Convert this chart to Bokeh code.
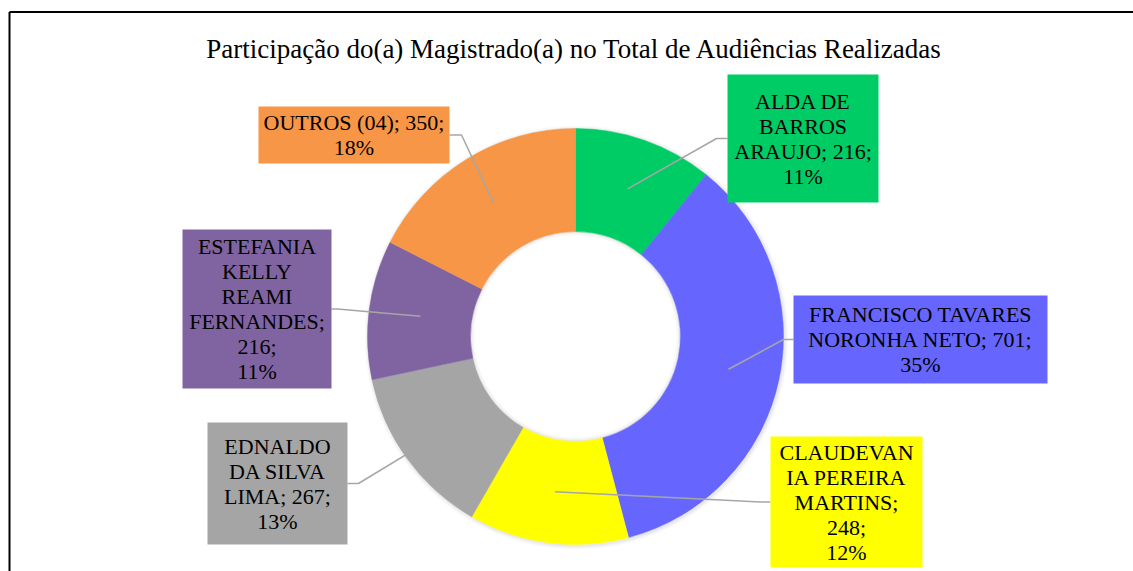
import math
from bokeh.plotting import figure
from bokeh.models import Range1d
from bokeh.embed import file_html
from bokeh.resources import INLINE
from bokeh.core.properties import value

# ---------------- data ----------------
title = "Participação do(a) Magistrado(a) no Total de Audiências Realizadas"
names = ["ALDA DE BARROS ARAUJO", "FRANCISCO TAVARES NORONHA NETO",
         "CLAUDEVANIA PEREIRA MARTINS", "EDNALDO DA SILVA LIMA",
         "ESTEFANIA KELLY REAMI FERNANDES", "OUTROS (04)"]
values = [216, 701, 248, 267, 216, 350]
colors = ["#00CC66", "#6666FF", "#FFFF00", "#A5A5A5", "#8064A2", "#F79646"]

# ---------------- layout (screen pixels) ----------------
wrapped = ["ALDA DE\nBARROS\nARAUJO", "FRANCISCO TAVARES\nNORONHA NETO",
           "CLAUDEVAN\nIA PEREIRA\nMARTINS", "EDNALDO\nDA SILVA\nLIMA",
           "ESTEFANIA\nKELLY\nREAMI\nFERNANDES", "OUTROS (04)"]
value_sep = [" ", " ", "\n", " ", "\n", " "]
# box: center x, center y, width, height, side of leader ('L' or 'R'), elbow length
boxes = [(802.5, 138, 151, 128, "L", 11),
         (920, 339, 254, 88, "L", 10),
         (846, 501.5, 152, 131, "L", 10),
         (277, 483, 140, 122, "R", 11),
         (256.5, 308.5, 149, 159, "R", 6),
         (353.5, 134.5, 191, 57, "R", 12)]
CX, CY = 575, 336
R_OUT, R_IN = 208, 105

W, H = 1133, 571


def Y(sy):
    return H - sy


p = figure(width=W, height=H, output_backend="svg", toolbar_location=None,
           x_range=Range1d(0, W), y_range=Range1d(0, H),
           x_axis_type=None, y_axis_type=None, min_border=0)
p.outline_line_color = None
p.xgrid.visible = False
p.ygrid.visible = False
p.background_fill_color = "white"
p.border_fill_color = "white"

# outer border of chart area
p.line([9, 9], [Y(575), Y(11.5)], line_color="black", line_width=2)
p.line([9, 1140], [Y(11.5), Y(11.5)], line_color="black", line_width=2)

# title
p.text(x=[574], y=[Y(48)], text=[title], text_align="center", text_baseline="middle",
       text_font=value("Liberation Serif"), text_font_size="27px", text_color="black")

# soft shadow rings
for k, a in [(4, 0.025), (2.5, 0.03), (1.2, 0.035)]:
    p.annulus(x=[CX + 1], y=[Y(CY + 1)], inner_radius=R_OUT - 1, outer_radius=R_OUT + k,
              fill_color="#000000", fill_alpha=a, line_color=None)
    p.annulus(x=[CX], y=[Y(CY)], inner_radius=R_IN - k, outer_radius=R_IN + 1,
              fill_color="#000000", fill_alpha=a, line_color=None)

total = sum(values)
cum = 0
for i, v in enumerate(values):
    a0 = math.pi / 2 - 2 * math.pi * cum / total
    a1 = math.pi / 2 - 2 * math.pi * (cum + v) / total
    p.annular_wedge(x=[CX], y=[Y(CY)], inner_radius=R_IN, outer_radius=R_OUT,
                    start_angle=a0, end_angle=a1, direction="clock",
                    fill_color=colors[i], line_color=colors[i], line_width=0.5)
    cum += v

# labels
cum = 0
for i, v in enumerate(values):
    mid = math.pi / 2 - 2 * math.pi * (cum + v / 2) / total
    cum += v
    rm = (R_OUT + R_IN) / 2
    ax = CX + rm * math.cos(mid)
    ay = CY - rm * math.sin(mid)
    bx, by, bw, bh, side, el = boxes[i]
    edge = bx - bw / 2 if side == "L" else bx + bw / 2
    elbow = edge - el if side == "L" else edge + el
    p.line([ax, elbow, edge], [Y(ay), Y(by), Y(by)], line_color="#A6A6A6", line_width=1.5)
    p.rect(x=[bx], y=[Y(by)], width=bw, height=bh, fill_color=colors[i], line_color=None)
    pct = round(v / total * 100)
    txt = f"{wrapped[i]};{value_sep[i]}{v};\n{pct}%"
    p.text(x=[bx], y=[Y(by)], text=[txt], text_align="center", text_baseline="middle",
           text_font=value("Liberation Serif"), text_font_size="22px",
           text_line_height=1.0, text_color="black")

open("out.html", "w").write(file_html(p, INLINE))
